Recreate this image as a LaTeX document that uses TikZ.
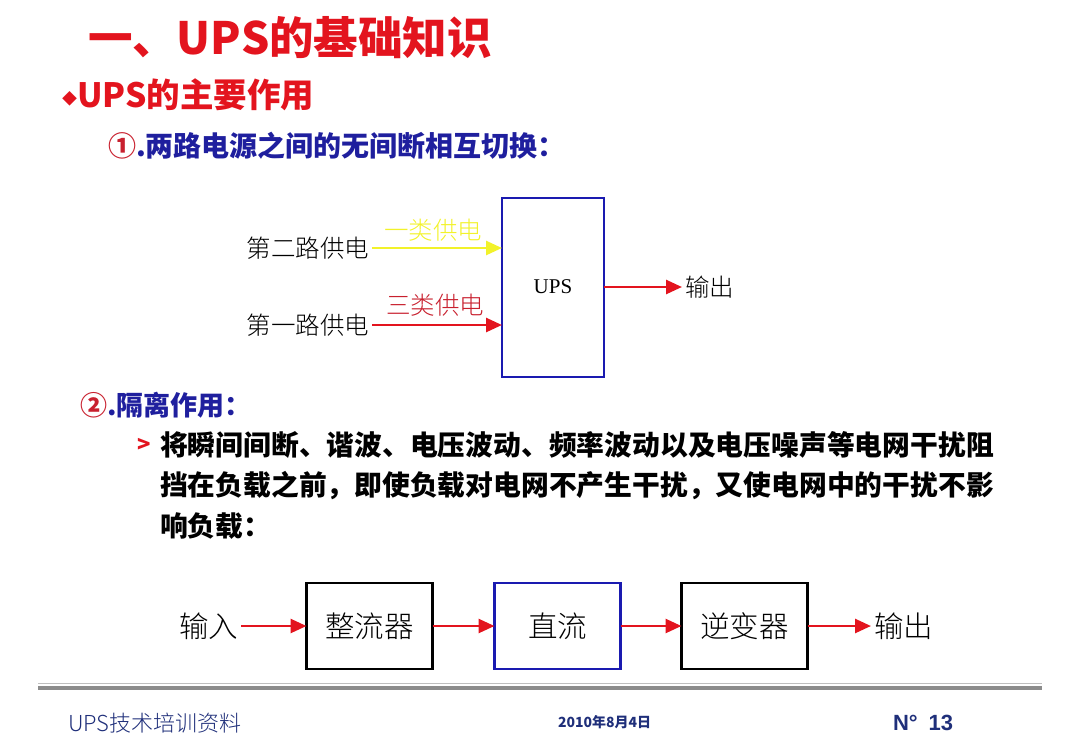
\documentclass[tikz,border=0pt]{standalone}
\usepackage{fontspec}
\setmainfont{Liberation Sans}
\newfontfamily\cjk{Noto Sans CJK SC}
\newfontfamily\cjkl{Noto Sans CJK SC Light}
\newfontfamily\serifl{Liberation Serif}
\usetikzlibrary{arrows.meta}
\definecolor{tred}{HTML}{E3141E}
\definecolor{tblue}{HTML}{1F1F9E}
\definecolor{dred}{HTML}{C8202E}
\definecolor{ylw}{HTML}{F2F22A}
\definecolor{navy}{HTML}{1F2F7A}
\definecolor{boxblue}{HTML}{1A1AB0}
\tikzset{
  every node/.style={inner sep=0pt, outer sep=0pt},
  arr/.style={line width=2.6pt, -{Triangle[length=16pt,width=14pt]}},
  dtext/.style={font=\cjkl\fontsize{24.5}{28}\selectfont, text=black},
  btext/.style={font=\cjkl\fontsize{29.5}{32}\selectfont, text=black},
  ptext/.style={font=\cjk\bfseries\fontsize{27.8}{30}\selectfont, text=black},
  blk/.style={draw=black, line width=2.4pt, minimum width=126pt, minimum height=86pt},
}
\begin{document}
\begin{tikzpicture}[x=1pt,y=-1pt]
\useasboundingbox (0,0) rectangle (1080,748);
% titles
\node[anchor=west, text=tred, font=\cjk\bfseries\fontsize{44.5}{48}\selectfont] (title) at (88,38) {一、UPS的基础知识};
\node[anchor=west, text=tred, font=\cjk\bfseries\fontsize{33.5}{36}\selectfont] (sub) at (62,95) {\raisebox{3pt}{\fontsize{15}{15}\selectfont ◆}UPS的主要作用};
\node[anchor=west, font=\cjk\bfseries\fontsize{28}{30}\selectfont] (s1) at (108,146) {\textcolor{dred}{①}\textcolor{tblue}{.两路电源之间的无间断相互切换：}};
% UPS diagram
\node[draw=boxblue, line width=2.4pt, minimum width=102pt, minimum height=179pt] (ups) at (553,287.5) {};
\node[font=\serifl\fontsize{21}{24}\selectfont] (upst) at (553,287) {UPS};
\node[dtext, anchor=east] (l2) at (369,248) {第二路供电};
\node[dtext, anchor=east] (l1) at (369,325) {第一路供电};
\draw[arr, draw=ylw, color=ylw] (l2.east) ++(3,0) coordinate (l2s) -- (l2s -| ups.west);
\draw[arr, draw=tred, color=tred] (l1.east) ++(3,0) coordinate (l1s) -- (l1s -| ups.west);
\node[dtext, text=ylw] (c1) at (433,230) {一类供电};
\node[dtext, text=dred] (c3) at (435,305) {三类供电};
\node[dtext, anchor=west] (out1) at (685,287) {输出};
\draw[arr, draw=tred, color=tred] (ups.east |- out1.west) -- ([xshift=-3pt]out1.west);
% section 2
\node[anchor=west, font=\cjk\bfseries\fontsize{27}{30}\selectfont] (s2) at (80,405) {\textcolor{dred}{②}\textcolor{tblue}{.隔离作用：}};
\node[anchor=west, text=tred, font=\cjk\bfseries\fontsize{22}{24}\selectfont] (gt) at (137,445) {>};
\node[anchor=west, ptext] (p1) at (160,445) {将瞬间间断、谐波、电压波动、频率波动以及电压噪声等电网干扰阻};
\node[anchor=west, ptext] (p2) at (160,486) {挡在负载之前，即使负载对电网不产生干扰，又使电网中的干扰不影};
\node[anchor=west, ptext] (p3) at (160,526) {响负载：};
% bottom chain
\node[btext, anchor=west] (in) at (179,626) {输入};
\node[blk] (b1) at (369.5,626) {};
\node[blk, draw=boxblue] (b2) at (557.5,626) {};
\node[blk] (b3) at (744.5,626) {};
\node[btext] (b1t) at (b1) {整流器};
\node[btext] (b2t) at (b2) {直流};
\node[btext] (b3t) at (b3) {逆变器};
\node[btext, anchor=west] (out2) at (874,626) {输出};
\draw[arr, draw=tred, color=tred] (in.east) ++(3,0) coordinate (ins) -- (b1.west);
\draw[arr, draw=tred, color=tred] (b1.east) -- (b2.west);
\draw[arr, draw=tred, color=tred] (b2.east) -- (b3.west);
\draw[arr, draw=tred, color=tred] (b3.east) -- ([xshift=-3pt]out2.west);
% footer
\coordinate (fl) at (38,688);
\coordinate (fr) at (1042,688);
\draw[line width=3.5pt, color=black!45] (fl) -- (fr);
\draw[line width=1.5pt, color=black!25] ([yshift=4.5pt]fl) -- ([yshift=4.5pt]fr);
\node[anchor=west, text=navy, font=\cjkl\fontsize{22}{24}\selectfont] (f1) at (68,723) {UPS技术培训资料};
\node[anchor=west, text=navy, font=\cjk\bfseries\fontsize{14}{16}\selectfont] (f2) at (558,722) {2010年8月4日};
\node[anchor=west, text=navy, font=\bfseries\fontsize{22}{24}\selectfont] (f3) at (893,723) {N°\,\,\,13};
\end{tikzpicture}
\end{document}
